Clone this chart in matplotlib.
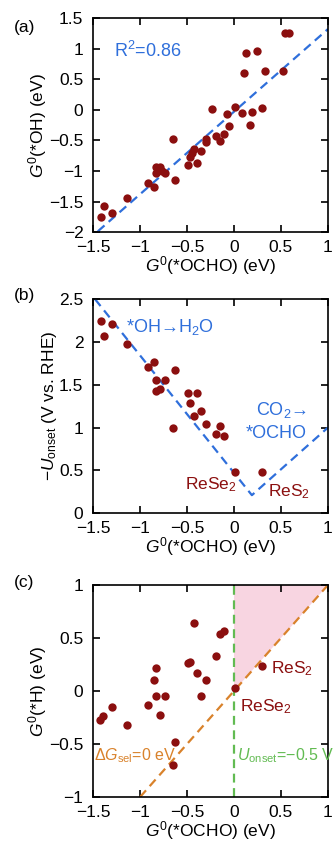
import matplotlib.pyplot as plt
import numpy as np

plt.rcParams['font.family'] = ['Liberation Sans', 'DejaVu Sans']
plt.rcParams['mathtext.fontset'] = 'custom'
plt.rcParams['mathtext.rm'] = 'Liberation Sans'
plt.rcParams['mathtext.it'] = 'Liberation Sans:italic'

# (a) G(*OCHO) vs G(*OH)
a_ocho = [-1.42, -1.38, -1.30, -1.14, -0.92, -0.85, -0.83, -0.83, -0.79, -0.77, -0.74,
          -0.65, -0.625, -0.49, -0.47, -0.45, -0.43, -0.39, -0.35, -0.30, -0.30, -0.23,
          -0.19, -0.15, -0.11, -0.07, -0.05, 0.01, 0.09, 0.11, 0.13, 0.17, 0.19, 0.24,
          0.30, 0.33, 0.525, 0.54, 0.58]
a_oh = [-1.76, -1.58, -1.69, -1.45, -1.19, -1.27, -0.94, -1.04, -0.94, -1.00, -1.04,
        -0.48, -1.15, -0.90, -0.78, -0.70, -0.64, -0.87, -0.67, -0.47, -0.52, 0.02,
        -0.43, -0.51, -0.40, -0.07, -0.27, 0.05, -0.06, 0.60, 0.93, -0.245, -0.03, 0.96,
        0.03, 0.63, 0.63, 1.26, 1.26]
fit_x = [-1.45, 1.0]
fit_slope = 1.35
fit_icpt = -0.03

# (b) limiting potential
b_ocho = [-1.42, -1.38, -1.30, -1.14, -0.92, -0.85, -0.83, -0.83, -0.79, -0.74, -0.65,
          -0.625, -0.49, -0.47, -0.43, -0.39, -0.35, -0.30, -0.19, -0.15, -0.11, 0.01, 0.30]
b_u = [2.25, 2.07, 2.21, 1.97, 1.71, 1.77, 1.56, 1.43, 1.45, 1.56, 0.99,
       1.67, 1.40, 1.29, 1.14, 1.40, 1.19, 1.04, 0.93, 1.02, 0.90, 0.475, 0.475]
vol_x = [-1.48, 0.19, 1.0]
vol_y = [2.5, 0.21, 1.0]

# (c) G(*OCHO) vs G(*H)
c_ocho = [-1.43, -1.40, -1.30, -1.14, -0.92, -0.85, -0.83, -0.83, -0.79, -0.74, -0.65,
          -0.625, -0.49, -0.47, -0.43, -0.39, -0.35, -0.30, -0.19, -0.15, -0.11, 0.01, 0.30]
c_h = [-0.27, -0.24, -0.15, -0.32, -0.13, 0.10, 0.22, -0.05, -0.23, -0.05, -0.70,
       -0.48, 0.26, 0.27, 0.64, 0.17, -0.05, 0.10, 0.33, 0.535, 0.57, 0.03, 0.24]

red = '#8B0F0F'
blue = '#2F6FDB'
orange = '#D9822B'
green = '#62BB52'
pink = '#F8D5E1'
fs = 12.5
M = '\u2212'

fig = plt.figure(figsize=(3.35, 8.44), dpi=100)
axa = fig.add_axes([0.278, 0.725, 0.701, 0.2536])
axb = fig.add_axes([0.278, 0.392, 0.701, 0.2536])
axc = fig.add_axes([0.278, 0.0557, 0.701, 0.2512])

xlab = r'$G^0$(*OCHO) (eV)'
for ax in (axa, axb, axc):
    ax.set_xlim(-1.5, 1)
    ax.set_xticks([-1.5, -1, -0.5, 0, 0.5, 1])
    ax.set_xticklabels([M + '1.5', M + '1', M + '0.5', '0', '0.5', '1'])
    ax.tick_params(direction='in', top=True, right=True, length=5, width=1.2,
                   labelsize=fs)
    ax.tick_params(axis='x', pad=6)
    ax.tick_params(axis='y', pad=7)
    for s in ax.spines.values():
        s.set_linewidth(1.2)
    ax.set_xlabel(xlab, fontsize=fs, labelpad=-1)

# (a)
xs = np.array(fit_x)
axa.plot(xs, fit_slope * xs + fit_icpt, '--', color=blue, lw=1.6, dashes=(4, 2.5))
axa.plot(a_ocho, a_oh, 'o', color=red, ms=6, mec='none')
axa.set_ylim(-2, 1.5)
axa.set_yticks([-2, -1.5, -1, -0.5, 0, 0.5, 1, 1.5])
axa.set_yticklabels([M + '2', M + '1.5', M + '1', M + '0.5', '0', '0.5', '1', '1.5'])
axa.set_ylabel(r'$G^0$(*OH) (eV)', fontsize=fs, labelpad=0)
axa.text(-1.28, 0.97, r'R$^2$=0.86', color=blue, fontsize=13, va='center')
fig.text(0.04, 0.962, '(a)', fontsize=fs)

# (b)
axb.plot(vol_x, vol_y, '--', color=blue, lw=1.6, dashes=(4, 2.5))
axb.plot(b_ocho, b_u, 'o', color=red, ms=6, mec='none')
axb.set_ylim(0, 2.5)
axb.set_yticks([0, 0.5, 1, 1.5, 2, 2.5])
axb.set_yticklabels(['0', '0.5', '1', '1.5', '2', '2.5'])
axb.set_ylabel(M + r'$U_{\mathrm{onset}}$ (V vs. RHE)', fontsize=fs, labelpad=0)
axb.text(-1.15, 2.18, '*OH\u2192H$_2$O', color=blue, fontsize=13, va='center')
axb.text(0.23, 1.21, 'CO$_2$\u2192', color=blue, fontsize=13, va='center')
axb.text(0.12, 0.93, '*OCHO', color=blue, fontsize=13, va='center')
axb.text(-0.52, 0.33, 'ReSe$_2$', color=red, fontsize=fs, va='center')
axb.text(0.36, 0.25, 'ReS$_2$', color=red, fontsize=fs, va='center')
fig.text(0.04, 0.645, '(b)', fontsize=fs)

# (c)
axc.fill([0, 0, 1], [0, 1, 1], color=pink, lw=0, zorder=0)
axc.plot([-1, 1], [-1, 1], '--', color=orange, lw=1.6, dashes=(4, 2.5))
axc.axvline(0, color=green, lw=1.6, ls='--', dashes=(4, 2.5))
axc.plot(c_ocho, c_h, 'o', color=red, ms=6, mec='none')
axc.set_ylim(-1, 1)
axc.set_yticks([-1, -0.5, 0, 0.5, 1])
axc.set_yticklabels([M + '1', M + '0.5', '0', '0.5', '1'])
axc.set_ylabel(r'$G^0$(*H) (eV)', fontsize=fs, labelpad=0)
axc.text(-1.49, -0.61, r'$\Delta G_{\mathrm{sel}}$=0 eV', color=orange, fontsize=11.5, va='center')
axc.text(0.03, -0.61, r'$U_{\mathrm{onset}}$=' + M + '0.5 V', color=green, fontsize=11.5, va='center')
axc.text(0.39, 0.21, 'ReS$_2$', color=red, fontsize=fs, va='center')
axc.text(0.06, -0.15, 'ReSe$_2$', color=red, fontsize=fs, va='center')
fig.text(0.04, 0.305, '(c)', fontsize=fs)

fig.savefig('out.png', dpi=100)
